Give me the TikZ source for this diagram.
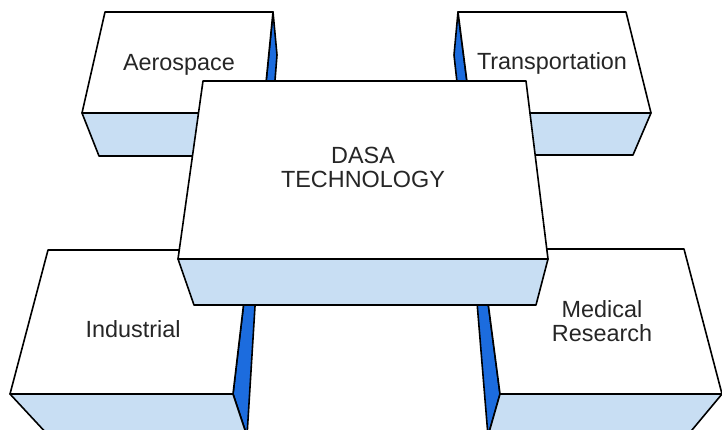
\documentclass[tikz,border=0pt]{standalone}
\usepackage{fontspec}
\setmainfont{Liberation Sans}
\usepackage{tikz}

\definecolor{facefront}{RGB}{200,222,243}
\definecolor{faceside}{RGB}{28,108,222}

\begin{document}
\begin{tikzpicture}[x=1pt, y=-1pt, line width=1.6pt, line join=round,
  topface/.style={fill=white, draw=black},
  frontface/.style={fill=facefront, draw=black},
  sideface/.style={fill=faceside, draw=black},
  boxlabel/.style={font=\fontsize{23.4}{24}\selectfont, text=black!85, inner sep=0pt, align=center}]
\useasboundingbox (0,0) rectangle (722,429);
\clip (0,0) rectangle (722,429);

% back boxes
\filldraw[sideface] (263,113) -- (273,12) -- (277,55) -- (269,156) -- cycle;
\filldraw[frontface] (82,113) -- (263,113) -- (269,156) -- (99,156) -- cycle;
\filldraw[topface] (105,12) -- (273,12) -- (263,113) -- (82,113) -- cycle;
\node[boxlabel, anchor=base] (aero) at (179,70) {Aerospace};

\filldraw[sideface] (471,113) -- (458,12) -- (454,55) -- (465,155) -- cycle;
\filldraw[frontface] (471,113) -- (651,113) -- (633,155) -- (465,155) -- cycle;
\filldraw[topface] (458,12) -- (626,12) -- (651,113) -- (471,113) -- cycle;
\node[boxlabel, anchor=base] (trans) at (552,69) {Transportation};

% front boxes
\filldraw[sideface] (233,394) -- (250,250) -- (256,290) -- (247,436) -- cycle;
\filldraw[frontface] (10,394) -- (233,394) -- (247,436) -- (49,436) -- cycle;
\filldraw[topface] (48,250) -- (250,250) -- (233,394) -- (10,394) -- cycle;
\node[boxlabel, anchor=base] (indus) at (133,337) {Industrial};

\filldraw[sideface] (500,394) -- (481,249) -- (476,290) -- (488,436) -- cycle;
\filldraw[frontface] (500,394) -- (722,394) -- (687,436) -- (488,436) -- cycle;
\filldraw[topface] (481,249) -- (684,249) -- (722,394) -- (500,394) -- cycle;
\node[boxlabel] (medic) at (602,321) {Medical\\Research};

% middle box
\filldraw[frontface] (178,259) -- (548,259) -- (536,305) -- (194,305) -- cycle;
\filldraw[topface] (203,81) -- (526,81) -- (548,259) -- (178,259) -- cycle;
\node[boxlabel] (dasa) at (363,167) {DASA\\TECHNOLOGY};
\end{tikzpicture}
\end{document}
